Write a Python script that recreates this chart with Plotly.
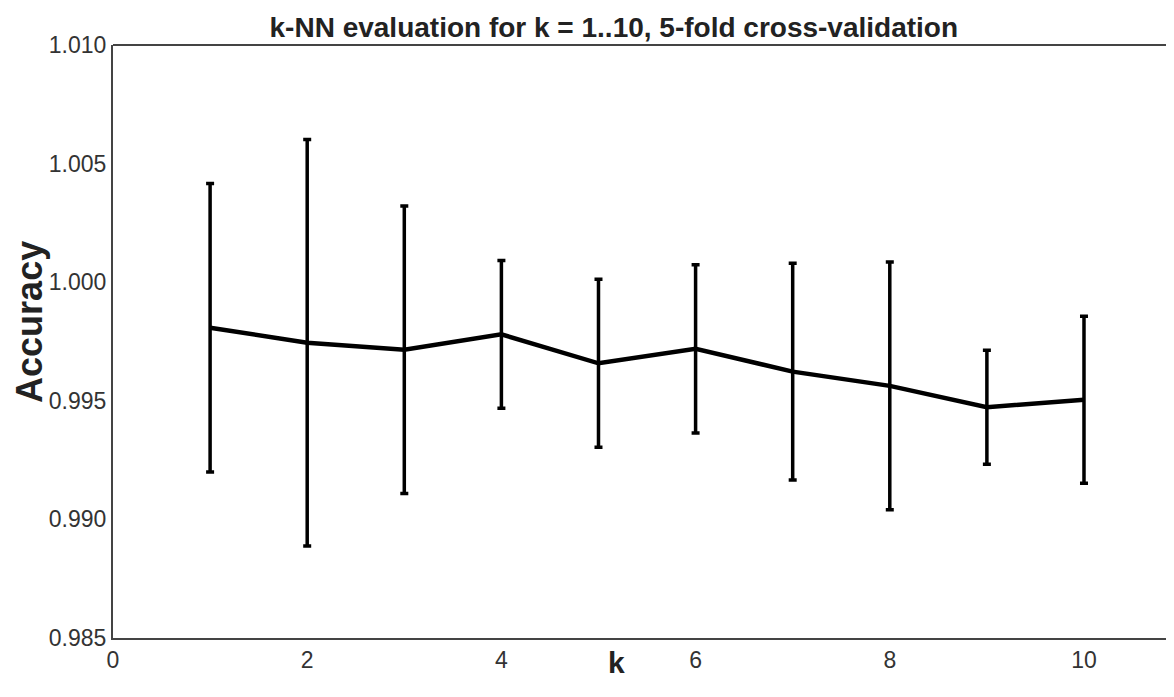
import plotly.graph_objects as go

k_values = [1, 2, 3, 4, 5, 6, 7, 8, 9, 10]
mean_accuracy = [0.99808, 0.99745, 0.99715, 0.99780, 0.99658, 0.99719, 0.99623, 0.99563, 0.99473, 0.99504]
std_accuracy = [0.00608, 0.00857, 0.00606, 0.00311, 0.00354, 0.00355, 0.00457, 0.00522, 0.00240, 0.00352]

x_ticks = [0, 2, 4, 6, 8, 10]
y_ticks = [0.985, 0.990, 0.995, 1.000, 1.005, 1.010]
y_tick_text = ["0.985", "0.990", "0.995", "1.000", "1.005", "1.010"]

fig = go.Figure()
fig.add_trace(go.Scatter(
    x=k_values, y=mean_accuracy, mode="lines",
    line=dict(color="black", width=4.5),
    error_y=dict(type="data", array=std_accuracy, visible=True,
                 color="black", thickness=3.5, width=4),
    showlegend=False, hoverinfo="x+y",
))

font_family = "Liberation Sans, Arial, sans-serif"
fig.update_layout(
    width=1166, height=689,
    margin=dict(l=105, r=0, t=37, b=59),
    paper_bgcolor="white", plot_bgcolor="white",
    font=dict(family=font_family, color="#333333"),
    title=dict(text="<b>k-NN evaluation for k = 1..10, 5-fold cross-validation</b>",
               x=0.472, xref="paper", xanchor="center",
               y=1 - 19 / 689, yref="container", yanchor="middle",
               font=dict(size=28, color="#222222", family=font_family)),
    xaxis=dict(range=[0, 10.927], tickvals=x_ticks, showgrid=False, zeroline=False,
               showline=True, linecolor="#444444", linewidth=2, ticks="",
               tickfont=dict(size=23, color="#333333")),
    yaxis=dict(range=[0.985, 1.010], tickvals=y_ticks, ticktext=y_tick_text,
               showgrid=False, zeroline=False,
               showline=True, linecolor="#444444", linewidth=2, ticks="",
               tickfont=dict(size=23, color="#333333")),
    shapes=[dict(type="line", xref="paper", yref="paper", x0=0, x1=1, y0=1, y1=1,
                 line=dict(color="#444444", width=2))],
    annotations=[
        dict(text="<b>k</b>", xref="paper", yref="paper", x=0.475, y=0,
             xanchor="center", yanchor="top", yshift=-6, showarrow=False,
             font=dict(size=30, color="#222222", family=font_family)),
        dict(text="<b>Accuracy</b>", xref="paper", yref="paper", x=-0.0985, y=0.533,
             xanchor="left", yanchor="middle", textangle=-90, showarrow=False,
             borderpad=0,
             font=dict(size=36, color="#222222", family=font_family)),
    ],
)

fig.write_html("out.html")
